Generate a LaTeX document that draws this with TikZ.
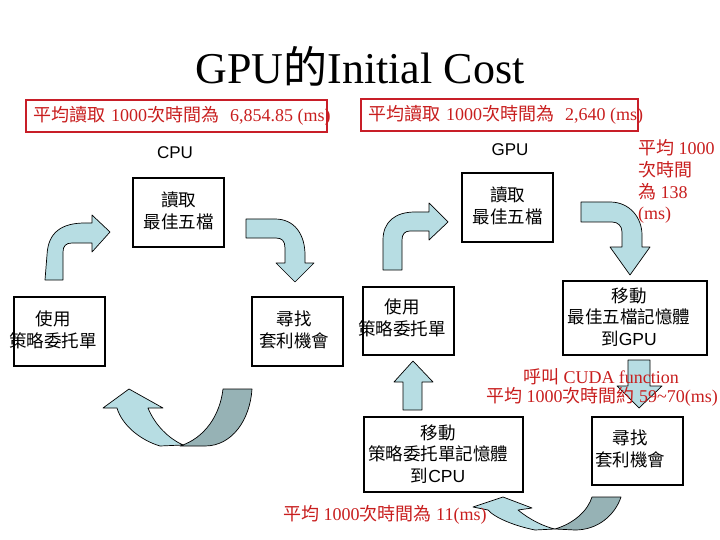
\documentclass[tikz,border=0pt]{standalone}
\usepackage{fontspec}
\setmainfont{Liberation Serif}
\newfontfamily\cjk{Noto Sans CJK TC}
\newfontfamily\sansf{Liberation Sans}
\definecolor{arrowlight}{RGB}{183,221,227}
\definecolor{arrowdark}{RGB}{150,178,181}
\definecolor{txtred}{RGB}{200,30,30}
\definecolor{boxred}{RGB}{200,30,40}
\tikzset{
  box/.style={draw=black, line width=1.5pt, inner sep=0pt},
  redbox/.style={draw=boxred, line width=1.8pt, inner sep=0pt},
  boxtext/.style={font=\cjk\fontsize{17.5}{21.5}\selectfont, align=center, inner sep=0pt},
  redtext/.style={text=txtred, font=\fontsize{18}{20}\selectfont, inner sep=0pt},
  lightarrow/.style={fill=arrowlight, draw=black, line width=0.7pt, line join=round},
  darkarrow/.style={fill=arrowdark, draw=black, line width=0.7pt, line join=round},
  plainlabel/.style={font=\sansf\fontsize{17}{20}\selectfont, inner sep=0pt}
}
\begin{document}
\begin{tikzpicture}[x=1pt,y=-1pt]
\useasboundingbox (0,0) rectangle (720,540);

% title
\node[font=\fontsize{44}{50}\selectfont, anchor=base, inner sep=0pt] (title) at (360,84) {GPU{\cjk 的}Initial Cost};

% red boxes
\node[redbox, minimum width=301pt, minimum height=32pt] (rb1) at (176.5,116) {};
\node[redbox, minimum width=277pt, minimum height=32pt] (rb2) at (499.5,115) {};
\node[redtext, anchor=west] (r1) at (33,116) {{\cjk 平均讀取}\hspace{6pt}1000{\cjk 次時間為}\hspace{11pt}6,854.85 (ms)};
\node[redtext, anchor=west] (r2) at (368,115) {{\cjk 平均讀取}\hspace{6pt}1000{\cjk 次時間為}\hspace{11pt}2,640 (ms)};

% labels
\node[plainlabel] (cpulbl) at (175,153) {CPU};
\node[plainlabel] (gpulbl) at (510,150) {GPU};

% side red text
\node[redtext, anchor=west] (s1) at (638,148) {{\cjk 平均} 1000};
\node[redtext, anchor=west] (s2) at (638,170) {{\cjk 次時間}};
\node[redtext, anchor=west] (s3) at (638,192) {{\cjk 為} 138};
\node[redtext, anchor=west] (s4) at (638,215) {(ms)};

% arrows
% A: CPU left, up-right
\draw[lightarrow] (45,280) -- (47,255) .. controls (48,232) and (62,223) .. (85,223) -- (92,223) -- (92,215) -- (110,232) -- (92,252) -- (92,243) -- (72,243) .. controls (66,243) and (63,246) .. (63,252) -- (63,280) -- cycle;
% B: CPU right, right-down
\draw[lightarrow] (246,219) -- (275,219) .. controls (295,219) and (305,235) .. (305,255) -- (305,263) -- (314,263) -- (295,282) -- (276,263) -- (285,263) -- (285,248) .. controls (285,241) and (282,238) .. (276,238) -- (246,238) -- cycle;
% C: GPU left, up-right
\draw[lightarrow] (383,270) -- (383,240) .. controls (383,222) and (395,212) .. (415,212) -- (429,212) -- (429,203) -- (448,222) -- (429,240) -- (429,231) -- (410,231) .. controls (405,231) and (402,234) .. (402,240) -- (402,270) -- cycle;
% D: GPU right, right-down
\draw[lightarrow] (581,202) -- (610,202) .. controls (630,202) and (642,218) .. (642,235) -- (642,247) -- (650,247) -- (630,275) -- (610,247) -- (622,247) -- (622,232) .. controls (622,226) and (618,222) .. (612,222) -- (581,222) -- cycle;
% E: CPU bottom U-turn
\draw[darkarrow] (223,389) -- (252,389) .. controls (250,420) and (232,446) .. (205,446) -- (180,446) .. controls (205,438) and (220,415) .. (223,389) -- cycle;
\draw[lightarrow] (103,408) -- (129,389) -- (163,408) -- (148,408) .. controls (155,425) and (168,438) .. (183,445) -- (160,446) .. controls (140,440) and (122,425) .. (117,408) -- cycle;
% F: GPU up arrow
\draw[lightarrow] (403,410) -- (403,382) -- (394,382) -- (413,361) -- (433,382) -- (422,382) -- (422,410) -- cycle;
% G: GPU down arrow
\draw[lightarrow] (628,360) -- (650,360) -- (650,386) -- (662,386) -- (639,408) -- (617,386) -- (628,386) -- cycle;
% H: GPU bottom U-turn
\draw[darkarrow] (592,497) -- (621,497) .. controls (615,515) and (598,530) .. (575,530) -- (555,529) .. controls (575,523) and (588,510) .. (592,497) -- cycle;
\draw[lightarrow] (473,507) -- (503,497) -- (532,508) -- (518,510) .. controls (530,520) and (545,527) .. (555,529) -- (535,530) .. controls (515,526) and (495,518) .. (488,510) -- cycle;

% boxes
\node[box, minimum width=91pt, minimum height=69pt] (cpuread) at (178.5,212.5) {};
\node[boxtext] at (178.5,211) {讀取\\最佳五檔};
\node[box, minimum width=91pt, minimum height=69pt] (gpuread) at (507.5,207.5) {};
\node[boxtext] at (507.5,206) {讀取\\最佳五檔};
\node[box, minimum width=91pt, minimum height=69pt] (cpuuse) at (59.5,331.5) {};
\node[boxtext] at (53,330) {使用\\策略委托單};
\node[box, minimum width=91pt, minimum height=69pt] (cpufind) at (297.5,331.5) {};
\node[boxtext] at (294,330) {尋找\\套利機會};
\node[box, minimum width=91pt, minimum height=68pt] (gpuuse) at (408.5,321) {};
\node[boxtext] at (402,318) {使用\\策略委托單};
\node[box, minimum width=144pt, minimum height=74pt] (gpumove) at (635,318) {};
\node[boxtext] at (629,317) {移動\\最佳五檔記憶體\\到{\sansf GPU}};
\node[box, minimum width=159pt, minimum height=75pt] (cpumove) at (443.5,454.5) {};
\node[boxtext] at (438,454) {移動\\策略委托單記憶體\\到{\sansf CPU}};
\node[box, minimum width=91pt, minimum height=68pt] (gpufind) at (637.5,451) {};
\node[boxtext] at (630,449) {尋找\\套利機會};

% bottom red texts
\node[redtext] (cuda1) at (601,377) {{\cjk 呼叫} CUDA function};
\node[redtext] (cuda2) at (602,397) {{\cjk 平均} 1000{\cjk 次時間約} 59\textasciitilde70(ms)};
\node[redtext, anchor=west] (r11) at (283,515) {{\cjk 平均} 1000{\cjk 次時間為} 11(ms)};
\end{tikzpicture}
\end{document}
